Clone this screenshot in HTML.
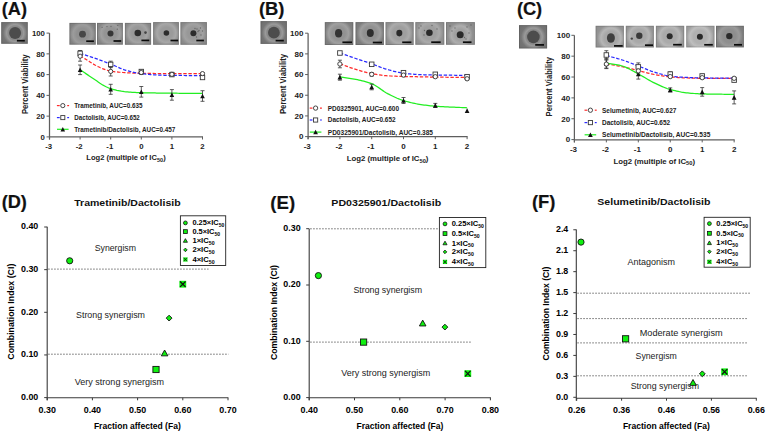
<!DOCTYPE html>
<html><head><meta charset="utf-8"><title>figure</title>
<style>
html,body{margin:0;padding:0;background:#fff;width:767px;height:432px;overflow:hidden;}
svg{display:block;font-family:"Liberation Sans",sans-serif;}
</style></head><body>
<svg width="767" height="432" viewBox="0 0 767 432">
<rect width="767" height="432" fill="#fff"/>
<text x="1.8" y="14.66" font-size="18.2" font-weight="bold" textLength="25.2" lengthAdjust="spacingAndGlyphs" fill="#111" stroke="#111" stroke-width="0.2">(A)</text>
<text x="258.9" y="14.76" font-size="18.2" font-weight="bold" textLength="25.5" lengthAdjust="spacingAndGlyphs" fill="#111" stroke="#111" stroke-width="0.2">(B)</text>
<text x="516.9" y="14.76" font-size="18.2" font-weight="bold" textLength="25.3" lengthAdjust="spacingAndGlyphs" fill="#111" stroke="#111" stroke-width="0.2">(C)</text>
<text x="1.7" y="208.06" font-size="18.2" font-weight="bold" textLength="25.2" lengthAdjust="spacingAndGlyphs" fill="#111" stroke="#111" stroke-width="0.2">(D)</text>
<text x="270.3" y="208.56" font-size="18.2" font-weight="bold" textLength="24.8" lengthAdjust="spacingAndGlyphs" fill="#111" stroke="#111" stroke-width="0.2">(E)</text>
<text x="531.9" y="208.36" font-size="18.2" font-weight="bold" textLength="23.5" lengthAdjust="spacingAndGlyphs" fill="#111" stroke="#111" stroke-width="0.2">(F)</text>
<radialGradient id="g6" cx="15.1" cy="33" r="21.28" gradientUnits="userSpaceOnUse"><stop offset="0" stop-color="#898989"/><stop offset="0.28" stop-color="#898989"/><stop offset="0.33" stop-color="#898989"/><stop offset="0.4" stop-color="#9a9a9a"/><stop offset="0.56" stop-color="#757575"/><stop offset="1" stop-color="#676767"/></radialGradient>
<rect x="1.2" y="22.1" width="26.6" height="21.7" fill="url(#g6)"/>
<rect x="1.7" y="22.6" width="25.6" height="20.7" fill="none" stroke="#000" stroke-opacity="0.12" stroke-width="1"/>
<ellipse cx="15.1" cy="33" rx="6" ry="6" fill="#4c4c4c"/>
<rect x="16.9" y="39.85" width="7.9" height="1.7" fill="#0a0a0a"/>
<radialGradient id="g11" cx="82.5" cy="34.2" r="21.12" gradientUnits="userSpaceOnUse"><stop offset="0" stop-color="#909090"/><stop offset="0.16" stop-color="#909090"/><stop offset="0.28" stop-color="#909090"/><stop offset="0.45" stop-color="#9c9c9c"/><stop offset="0.62" stop-color="#828282"/><stop offset="1" stop-color="#747474"/></radialGradient>
<rect x="69.4" y="22.9" width="26.4" height="21.8" fill="url(#g11)"/>
<rect x="69.9" y="23.4" width="25.4" height="20.8" fill="none" stroke="#000" stroke-opacity="0.12" stroke-width="1"/>
<ellipse cx="82.5" cy="34.2" rx="3.4" ry="3.4" fill="#474747"/>
<rect x="86.2" y="40.35" width="7.7" height="1.7" fill="#0a0a0a"/>
<radialGradient id="g16" cx="110.5" cy="33.6" r="20.72" gradientUnits="userSpaceOnUse"><stop offset="0" stop-color="#949494"/><stop offset="0.14" stop-color="#949494"/><stop offset="0.29" stop-color="#949494"/><stop offset="0.46" stop-color="#a0a0a0"/><stop offset="0.63" stop-color="#868686"/><stop offset="1" stop-color="#787878"/></radialGradient>
<rect x="97" y="22.9" width="25.9" height="21.8" fill="url(#g16)"/>
<rect x="97.5" y="23.4" width="24.9" height="20.8" fill="none" stroke="#000" stroke-opacity="0.12" stroke-width="1"/>
<ellipse cx="110.5" cy="33.6" rx="3" ry="3" fill="#363636"/>
<circle cx="102.1" cy="27.3" r="0.65" fill="#3a3a3a" fill-opacity="0.55"/>
<circle cx="107" cy="26.6" r="0.65" fill="#3a3a3a" fill-opacity="0.55"/>
<circle cx="111" cy="26.3" r="0.65" fill="#3a3a3a" fill-opacity="0.55"/>
<circle cx="117.8" cy="25.3" r="0.65" fill="#3a3a3a" fill-opacity="0.55"/>
<circle cx="117.3" cy="29.2" r="0.65" fill="#3a3a3a" fill-opacity="0.55"/>
<rect x="113.5" y="40.15" width="7.7" height="1.7" fill="#0a0a0a"/>
<radialGradient id="g26" cx="137.8" cy="33" r="20.96" gradientUnits="userSpaceOnUse"><stop offset="0" stop-color="#989898"/><stop offset="0.16" stop-color="#989898"/><stop offset="0.29" stop-color="#989898"/><stop offset="0.45" stop-color="#a4a4a4"/><stop offset="0.62" stop-color="#898989"/><stop offset="1" stop-color="#7b7b7b"/></radialGradient>
<rect x="124.9" y="22.9" width="26.2" height="21.9" fill="url(#g26)"/>
<rect x="125.4" y="23.4" width="25.2" height="20.9" fill="none" stroke="#000" stroke-opacity="0.12" stroke-width="1"/>
<ellipse cx="137.8" cy="33" rx="3.3" ry="3.3" fill="#2c2c2c"/>
<circle cx="145.5" cy="32.6" r="1.3" fill="#444"/>
<rect x="141.4" y="39.55" width="7.9" height="1.7" fill="#0a0a0a"/>
<radialGradient id="g32" cx="166.4" cy="33" r="20.64" gradientUnits="userSpaceOnUse"><stop offset="0" stop-color="#9a9a9a"/><stop offset="0.14" stop-color="#9a9a9a"/><stop offset="0.29" stop-color="#9a9a9a"/><stop offset="0.46" stop-color="#a7a7a7"/><stop offset="0.63" stop-color="#8b8b8b"/><stop offset="1" stop-color="#7d7d7d"/></radialGradient>
<rect x="153.1" y="22.1" width="25.8" height="22.7" fill="url(#g32)"/>
<rect x="153.6" y="22.6" width="24.8" height="21.7" fill="none" stroke="#000" stroke-opacity="0.12" stroke-width="1"/>
<ellipse cx="166.4" cy="33" rx="2.8" ry="2.8" fill="#2c2c2c"/>
<rect x="170.5" y="39.65" width="7.6" height="1.7" fill="#0a0a0a"/>
<radialGradient id="g37" cx="193.4" cy="33.3" r="21.2" gradientUnits="userSpaceOnUse"><stop offset="0" stop-color="#989898"/><stop offset="0.14" stop-color="#989898"/><stop offset="0.28" stop-color="#989898"/><stop offset="0.45" stop-color="#a2a2a2"/><stop offset="0.61" stop-color="#8b8b8b"/><stop offset="1" stop-color="#7d7d7d"/></radialGradient>
<rect x="180.4" y="22.1" width="26.5" height="22.7" fill="url(#g37)"/>
<rect x="180.9" y="22.6" width="25.5" height="21.7" fill="none" stroke="#000" stroke-opacity="0.12" stroke-width="1"/>
<ellipse cx="193.4" cy="33.3" rx="3" ry="3" fill="#2c2c2c"/>
<circle cx="197" cy="29" r="0.65" fill="#3a3a3a" fill-opacity="0.55"/>
<circle cx="199" cy="30.5" r="0.65" fill="#3a3a3a" fill-opacity="0.55"/>
<circle cx="200.5" cy="28" r="0.65" fill="#3a3a3a" fill-opacity="0.55"/>
<circle cx="198" cy="31.5" r="0.65" fill="#3a3a3a" fill-opacity="0.55"/>
<circle cx="201" cy="35" r="0.65" fill="#3a3a3a" fill-opacity="0.55"/>
<circle cx="196.5" cy="37" r="0.65" fill="#3a3a3a" fill-opacity="0.55"/>
<circle cx="195" cy="28.5" r="0.65" fill="#3a3a3a" fill-opacity="0.55"/>
<circle cx="202.5" cy="31" r="0.65" fill="#3a3a3a" fill-opacity="0.55"/>
<rect x="196.3" y="39.65" width="7.6" height="1.7" fill="#0a0a0a"/>
<radialGradient id="g50" cx="273.9" cy="32.7" r="21.12" gradientUnits="userSpaceOnUse"><stop offset="0" stop-color="#898989"/><stop offset="0.28" stop-color="#898989"/><stop offset="0.33" stop-color="#898989"/><stop offset="0.4" stop-color="#9a9a9a"/><stop offset="0.56" stop-color="#757575"/><stop offset="1" stop-color="#676767"/></radialGradient>
<rect x="260.5" y="21.1" width="26.4" height="22.8" fill="url(#g50)"/>
<rect x="261" y="21.6" width="25.4" height="21.8" fill="none" stroke="#000" stroke-opacity="0.12" stroke-width="1"/>
<ellipse cx="273.9" cy="32.7" rx="5.9" ry="5.9" fill="#4c4c4c"/>
<rect x="275.6" y="39.75" width="8.2" height="1.7" fill="#0a0a0a"/>
<radialGradient id="g55" cx="338.6" cy="33.3" r="22.8" gradientUnits="userSpaceOnUse"><stop offset="0" stop-color="#929292"/><stop offset="0.16" stop-color="#929292"/><stop offset="0.29" stop-color="#929292"/><stop offset="0.44" stop-color="#a0a0a0"/><stop offset="0.59" stop-color="#808080"/><stop offset="1" stop-color="#727272"/></radialGradient>
<rect x="324.8" y="22.1" width="28.5" height="22.9" fill="url(#g55)"/>
<rect x="325.3" y="22.6" width="27.5" height="21.9" fill="none" stroke="#000" stroke-opacity="0.12" stroke-width="1"/>
<ellipse cx="338.6" cy="33.3" rx="3.6" ry="4.2" fill="#333"/>
<rect x="342.4" y="41.45" width="9.6" height="1.7" fill="#0a0a0a"/>
<radialGradient id="g60" cx="370.3" cy="33.1" r="22.72" gradientUnits="userSpaceOnUse"><stop offset="0" stop-color="#909090"/><stop offset="0.15" stop-color="#909090"/><stop offset="0.29" stop-color="#909090"/><stop offset="0.44" stop-color="#9e9e9e"/><stop offset="0.59" stop-color="#7e7e7e"/><stop offset="1" stop-color="#707070"/></radialGradient>
<rect x="355.5" y="22.1" width="28.4" height="22.9" fill="url(#g60)"/>
<rect x="356" y="22.6" width="27.4" height="21.9" fill="none" stroke="#000" stroke-opacity="0.12" stroke-width="1"/>
<ellipse cx="370.3" cy="33.1" rx="3.5" ry="4" fill="#2e2e2e"/>
<rect x="372.8" y="41.65" width="9.2" height="1.7" fill="#0a0a0a"/>
<radialGradient id="g65" cx="399.3" cy="33.1" r="22.56" gradientUnits="userSpaceOnUse"><stop offset="0" stop-color="#9f9f9f"/><stop offset="0.13" stop-color="#9f9f9f"/><stop offset="0.29" stop-color="#9f9f9f"/><stop offset="0.44" stop-color="#acacac"/><stop offset="0.6" stop-color="#909090"/><stop offset="1" stop-color="#828282"/></radialGradient>
<rect x="385.5" y="22.1" width="28.2" height="22.9" fill="url(#g65)"/>
<rect x="386" y="22.6" width="27.2" height="21.9" fill="none" stroke="#000" stroke-opacity="0.12" stroke-width="1"/>
<ellipse cx="399.3" cy="33.1" rx="3" ry="3.3" fill="#2a2a2a"/>
<rect x="402.2" y="41.45" width="9.2" height="1.7" fill="#0a0a0a"/>
<radialGradient id="g70" cx="429.4" cy="32.7" r="23.2" gradientUnits="userSpaceOnUse"><stop offset="0" stop-color="#9f9f9f"/><stop offset="0.14" stop-color="#9f9f9f"/><stop offset="0.28" stop-color="#9f9f9f"/><stop offset="0.43" stop-color="#aaaaaa"/><stop offset="0.58" stop-color="#929292"/><stop offset="1" stop-color="#848484"/></radialGradient>
<rect x="415.3" y="22.1" width="29" height="22.7" fill="url(#g70)"/>
<rect x="415.8" y="22.6" width="28" height="21.7" fill="none" stroke="#000" stroke-opacity="0.12" stroke-width="1"/>
<ellipse cx="429.4" cy="32.7" rx="3.3" ry="3.3" fill="#2a2a2a"/>
<circle cx="421" cy="26" r="0.65" fill="#3a3a3a" fill-opacity="0.55"/>
<circle cx="432" cy="25.5" r="0.65" fill="#3a3a3a" fill-opacity="0.55"/>
<circle cx="424.5" cy="30.5" r="0.65" fill="#3a3a3a" fill-opacity="0.55"/>
<circle cx="437" cy="29" r="0.65" fill="#3a3a3a" fill-opacity="0.55"/>
<circle cx="424" cy="35" r="0.65" fill="#3a3a3a" fill-opacity="0.55"/>
<circle cx="419" cy="28" r="0.65" fill="#3a3a3a" fill-opacity="0.55"/>
<rect x="431.2" y="41.35" width="9.5" height="1.7" fill="#0a0a0a"/>
<radialGradient id="g81" cx="460.2" cy="34.8" r="23.12" gradientUnits="userSpaceOnUse"><stop offset="0" stop-color="#a0a0a0"/><stop offset="0.15" stop-color="#a0a0a0"/><stop offset="0.24" stop-color="#a0a0a0"/><stop offset="0.39" stop-color="#aeaeae"/><stop offset="0.54" stop-color="#909090"/><stop offset="1" stop-color="#828282"/></radialGradient>
<rect x="446" y="22.1" width="28.9" height="22.7" fill="url(#g81)"/>
<rect x="446.5" y="22.6" width="27.9" height="21.7" fill="none" stroke="#000" stroke-opacity="0.12" stroke-width="1"/>
<ellipse cx="460.2" cy="34.8" rx="3.5" ry="3.5" fill="#2a2a2a"/>
<circle cx="450" cy="26" r="0.65" fill="#3a3a3a" fill-opacity="0.55"/>
<circle cx="455" cy="28" r="0.65" fill="#3a3a3a" fill-opacity="0.55"/>
<circle cx="467" cy="27" r="0.65" fill="#3a3a3a" fill-opacity="0.55"/>
<circle cx="469" cy="33" r="0.65" fill="#3a3a3a" fill-opacity="0.55"/>
<circle cx="464.5" cy="37.5" r="0.65" fill="#3a3a3a" fill-opacity="0.55"/>
<circle cx="466" cy="39" r="0.65" fill="#3a3a3a" fill-opacity="0.55"/>
<circle cx="452" cy="31" r="0.65" fill="#3a3a3a" fill-opacity="0.55"/>
<circle cx="471" cy="25" r="0.65" fill="#3a3a3a" fill-opacity="0.55"/>
<rect x="462.9" y="41.35" width="8.6" height="1.7" fill="#0a0a0a"/>
<radialGradient id="g94" cx="533.4" cy="36.9" r="22.48" gradientUnits="userSpaceOnUse"><stop offset="0" stop-color="#898989"/><stop offset="0.28" stop-color="#898989"/><stop offset="0.32" stop-color="#898989"/><stop offset="0.39" stop-color="#9a9a9a"/><stop offset="0.55" stop-color="#757575"/><stop offset="1" stop-color="#676767"/></radialGradient>
<rect x="519" y="25.1" width="28.1" height="23.4" fill="url(#g94)"/>
<rect x="519.5" y="25.6" width="27.1" height="22.4" fill="none" stroke="#000" stroke-opacity="0.12" stroke-width="1"/>
<ellipse cx="533.4" cy="36.9" rx="6.3" ry="6.3" fill="#4c4c4c"/>
<rect x="535.2" y="44.05" width="8.8" height="1.7" fill="#0a0a0a"/>
<radialGradient id="g99" cx="610.9" cy="38" r="22.64" gradientUnits="userSpaceOnUse"><stop offset="0" stop-color="#a7a7a7"/><stop offset="0.18" stop-color="#a7a7a7"/><stop offset="0.29" stop-color="#a7a7a7"/><stop offset="0.44" stop-color="#b6b6b6"/><stop offset="0.6" stop-color="#949494"/><stop offset="1" stop-color="#868686"/></radialGradient>
<rect x="595.6" y="25.8" width="28.3" height="21.7" fill="url(#g99)"/>
<rect x="596.1" y="26.3" width="27.3" height="20.7" fill="none" stroke="#000" stroke-opacity="0.12" stroke-width="1"/>
<ellipse cx="610.9" cy="38" rx="4" ry="4.8" fill="#404040"/>
<rect x="614" y="45.05" width="8.7" height="1.7" fill="#0a0a0a"/>
<radialGradient id="g104" cx="639.3" cy="35.8" r="22.48" gradientUnits="userSpaceOnUse"><stop offset="0" stop-color="#a8a8a8"/><stop offset="0.14" stop-color="#a8a8a8"/><stop offset="0.29" stop-color="#a8a8a8"/><stop offset="0.44" stop-color="#b6b6b6"/><stop offset="0.6" stop-color="#969696"/><stop offset="1" stop-color="#888888"/></radialGradient>
<rect x="625.8" y="25.8" width="28.1" height="21.7" fill="url(#g104)"/>
<rect x="626.3" y="26.3" width="27.1" height="20.7" fill="none" stroke="#000" stroke-opacity="0.12" stroke-width="1"/>
<ellipse cx="639.3" cy="35.8" rx="3.2" ry="3.2" fill="#3a3a3a"/>
<circle cx="631.8" cy="38.6" r="1.2" fill="#444"/>
<rect x="645" y="44.35" width="8" height="1.7" fill="#0a0a0a"/>
<radialGradient id="g110" cx="669.7" cy="36.3" r="22.64" gradientUnits="userSpaceOnUse"><stop offset="0" stop-color="#aaaaaa"/><stop offset="0.13" stop-color="#aaaaaa"/><stop offset="0.29" stop-color="#aaaaaa"/><stop offset="0.44" stop-color="#b8b8b8"/><stop offset="0.6" stop-color="#989898"/><stop offset="1" stop-color="#8a8a8a"/></radialGradient>
<rect x="655.9" y="25.8" width="28.3" height="21.7" fill="url(#g110)"/>
<rect x="656.4" y="26.3" width="27.3" height="20.7" fill="none" stroke="#000" stroke-opacity="0.12" stroke-width="1"/>
<ellipse cx="669.7" cy="36.3" rx="3" ry="3" fill="#2c2c2c"/>
<rect x="673.1" y="43.85" width="8.7" height="1.7" fill="#0a0a0a"/>
<radialGradient id="g115" cx="699.9" cy="36.8" r="22.64" gradientUnits="userSpaceOnUse"><stop offset="0" stop-color="#b0b0b0"/><stop offset="0.13" stop-color="#b0b0b0"/><stop offset="0.29" stop-color="#b0b0b0"/><stop offset="0.44" stop-color="#bebebe"/><stop offset="0.6" stop-color="#a0a0a0"/><stop offset="1" stop-color="#929292"/></radialGradient>
<rect x="686.2" y="25.8" width="28.3" height="21.6" fill="url(#g115)"/>
<rect x="686.7" y="26.3" width="27.3" height="20.6" fill="none" stroke="#000" stroke-opacity="0.12" stroke-width="1"/>
<ellipse cx="699.9" cy="36.8" rx="3" ry="3" fill="#2a2a2a"/>
<rect x="704.2" y="43.95" width="8.6" height="1.7" fill="#0a0a0a"/>
<radialGradient id="g120" cx="729.3" cy="36.1" r="22.32" gradientUnits="userSpaceOnUse"><stop offset="0" stop-color="#8e8e8e"/><stop offset="0.14" stop-color="#8e8e8e"/><stop offset="0.29" stop-color="#8e8e8e"/><stop offset="0.45" stop-color="#9a9a9a"/><stop offset="0.6" stop-color="#808080"/><stop offset="1" stop-color="#727272"/></radialGradient>
<rect x="716" y="25.8" width="27.9" height="21.6" fill="url(#g120)"/>
<rect x="716.5" y="26.3" width="26.9" height="20.6" fill="none" stroke="#000" stroke-opacity="0.12" stroke-width="1"/>
<ellipse cx="729.3" cy="36.1" rx="3.2" ry="3.2" fill="#2a2a2a"/>
<rect x="734" y="43.95" width="8" height="1.7" fill="#0a0a0a"/>
<line x1="49.5" y1="33.1" x2="49.5" y2="139.5" stroke="#5e5e5e" stroke-width="1.25"/>
<line x1="49.5" y1="136.9" x2="203" y2="136.9" stroke="#5e5e5e" stroke-width="1.2"/>
<line x1="46.5" y1="136.9" x2="49.5" y2="136.9" stroke="#5e5e5e" stroke-width="1"/>
<text x="44.9" y="139.69" font-size="7.8" font-weight="bold" text-anchor="end" fill="#222">0</text>
<line x1="46.5" y1="116.14" x2="49.5" y2="116.14" stroke="#5e5e5e" stroke-width="1"/>
<text x="44.9" y="118.93" font-size="7.8" font-weight="bold" text-anchor="end" fill="#222">20</text>
<line x1="46.5" y1="95.38" x2="49.5" y2="95.38" stroke="#5e5e5e" stroke-width="1"/>
<text x="44.9" y="98.17" font-size="7.8" font-weight="bold" text-anchor="end" fill="#222">40</text>
<line x1="46.5" y1="74.62" x2="49.5" y2="74.62" stroke="#5e5e5e" stroke-width="1"/>
<text x="44.9" y="77.41" font-size="7.8" font-weight="bold" text-anchor="end" fill="#222">60</text>
<line x1="46.5" y1="53.86" x2="49.5" y2="53.86" stroke="#5e5e5e" stroke-width="1"/>
<text x="44.9" y="56.65" font-size="7.8" font-weight="bold" text-anchor="end" fill="#222">80</text>
<line x1="46.5" y1="33.1" x2="49.5" y2="33.1" stroke="#5e5e5e" stroke-width="1"/>
<text x="44.9" y="35.89" font-size="7.8" font-weight="bold" text-anchor="end" fill="#222">100</text>
<line x1="49.5" y1="136.9" x2="49.5" y2="139.5" stroke="#5e5e5e" stroke-width="1"/>
<text x="48.6" y="149.09" font-size="7.8" font-weight="bold" text-anchor="middle" fill="#222">-3</text>
<line x1="80.1" y1="136.9" x2="80.1" y2="139.5" stroke="#5e5e5e" stroke-width="1"/>
<text x="79.2" y="149.09" font-size="7.8" font-weight="bold" text-anchor="middle" fill="#222">-2</text>
<line x1="110.7" y1="136.9" x2="110.7" y2="139.5" stroke="#5e5e5e" stroke-width="1"/>
<text x="109.8" y="149.09" font-size="7.8" font-weight="bold" text-anchor="middle" fill="#222">-1</text>
<line x1="141.3" y1="136.9" x2="141.3" y2="139.5" stroke="#5e5e5e" stroke-width="1"/>
<text x="141.3" y="149.09" font-size="7.8" font-weight="bold" text-anchor="middle" fill="#222">0</text>
<line x1="171.9" y1="136.9" x2="171.9" y2="139.5" stroke="#5e5e5e" stroke-width="1"/>
<text x="171.9" y="149.09" font-size="7.8" font-weight="bold" text-anchor="middle" fill="#222">1</text>
<line x1="202.5" y1="136.9" x2="202.5" y2="139.5" stroke="#5e5e5e" stroke-width="1"/>
<text x="202.5" y="149.09" font-size="7.8" font-weight="bold" text-anchor="middle" fill="#222">2</text>
<text x="126" y="160.02" font-size="7.6" font-weight="bold" text-anchor="middle" textLength="79.3" lengthAdjust="spacingAndGlyphs" fill="#222">Log2 (multiple of IC<tspan font-size="5.6" dy="1.8">50</tspan><tspan dy="-1.8">)</tspan></text>
<text x="26.3" y="86.38" font-size="8.6" font-weight="bold" text-anchor="middle" textLength="59.7" lengthAdjust="spacingAndGlyphs" fill="#222" transform="rotate(-90 26.3 84.2)">Percent Viability</text>
<path d="M80.1,55.8 L81.63,56.74 L83.16,57.67 L84.69,58.61 L86.22,59.55 L87.75,60.49 L89.28,61.45 L90.81,62.44 L92.34,63.41 L93.87,64.34 L95.4,65.2 L96.93,66.01 L98.46,66.8 L99.99,67.54 L101.52,68.22 L103.05,68.81 L104.58,69.37 L106.11,69.91 L107.64,70.39 L109.17,70.79 L110.7,71.1 L112.23,71.34 L113.76,71.56 L115.29,71.76 L116.82,71.94 L118.35,72.1 L119.88,72.25 L121.41,72.38 L122.94,72.5 L124.47,72.61 L126,72.7 L127.53,72.79 L129.06,72.87 L130.59,72.94 L132.12,73.01 L133.65,73.08 L135.18,73.14 L136.71,73.19 L138.24,73.23 L139.77,73.27 L141.3,73.3 L142.83,73.33 L144.36,73.35 L145.89,73.37 L147.42,73.4 L148.95,73.42 L150.48,73.44 L152.01,73.46 L153.54,73.48 L155.07,73.5 L156.6,73.51 L158.13,73.53 L159.66,73.54 L161.19,73.56 L162.72,73.57 L164.25,73.58 L165.78,73.59 L167.31,73.59 L168.84,73.6 L170.37,73.6 L171.9,73.6 L173.43,73.6 L174.96,73.6 L176.49,73.6 L178.02,73.6 L179.55,73.6 L181.08,73.6 L182.61,73.6 L184.14,73.6 L185.67,73.6 L187.2,73.6 L188.73,73.6 L190.26,73.6 L191.79,73.6 L193.32,73.6 L194.85,73.6 L196.38,73.6 L197.91,73.6 L199.44,73.6 L200.97,73.6 L202.5,73.6" stroke="#ff2a2a" stroke-width="1.25" fill="none" stroke-dasharray="3.4,1.7"/>
<path d="M80.1,53.3 L81.63,53.81 L83.16,54.31 L84.69,54.81 L86.22,55.31 L87.75,55.81 L89.28,56.32 L90.81,56.83 L92.34,57.34 L93.87,57.87 L95.4,58.4 L96.93,58.94 L98.46,59.49 L99.99,60.05 L101.52,60.61 L103.05,61.18 L104.58,61.76 L106.11,62.33 L107.64,62.92 L109.17,63.51 L110.7,64.1 L112.23,64.72 L113.76,65.37 L115.29,66.04 L116.82,66.72 L118.35,67.4 L119.88,68.07 L121.41,68.7 L122.94,69.29 L124.47,69.83 L126,70.3 L127.53,70.73 L129.06,71.14 L130.59,71.53 L132.12,71.91 L133.65,72.27 L135.18,72.6 L136.71,72.9 L138.24,73.17 L139.77,73.4 L141.3,73.6 L142.83,73.77 L144.36,73.94 L145.89,74.1 L147.42,74.25 L148.95,74.39 L150.48,74.52 L152.01,74.65 L153.54,74.76 L155.07,74.86 L156.6,74.96 L158.13,75.04 L159.66,75.11 L161.19,75.17 L162.72,75.22 L164.25,75.26 L165.78,75.3 L167.31,75.33 L168.84,75.36 L170.37,75.38 L171.9,75.4 L173.43,75.42 L174.96,75.43 L176.49,75.44 L178.02,75.46 L179.55,75.47 L181.08,75.48 L182.61,75.49 L184.14,75.5 L185.67,75.51 L187.2,75.52 L188.73,75.52 L190.26,75.53 L191.79,75.54 L193.32,75.55 L194.85,75.56 L196.38,75.56 L197.91,75.57 L199.44,75.58 L200.97,75.59 L202.5,75.6" stroke="#2a2aff" stroke-width="1.25" fill="none" stroke-dasharray="3.4,1.7"/>
<path d="M80.1,69.8 L81.63,70.82 L83.16,71.84 L84.69,72.85 L86.22,73.87 L87.75,74.89 L89.28,75.9 L90.81,76.92 L92.34,77.94 L93.87,78.97 L95.4,80 L96.93,81.07 L98.46,82.17 L99.99,83.26 L101.52,84.27 L103.05,85.17 L104.58,86.01 L106.11,86.81 L107.64,87.54 L109.17,88.18 L110.7,88.7 L112.23,89.14 L113.76,89.55 L115.29,89.94 L116.82,90.31 L118.35,90.64 L119.88,90.94 L121.41,91.21 L122.94,91.44 L124.47,91.64 L126,91.8 L127.53,91.93 L129.06,92.06 L130.59,92.17 L132.12,92.28 L133.65,92.37 L135.18,92.46 L136.71,92.53 L138.24,92.6 L139.77,92.65 L141.3,92.7 L142.83,92.74 L144.36,92.78 L145.89,92.82 L147.42,92.85 L148.95,92.88 L150.48,92.91 L152.01,92.94 L153.54,92.97 L155.07,92.99 L156.6,93.02 L158.13,93.04 L159.66,93.06 L161.19,93.08 L162.72,93.1 L164.25,93.12 L165.78,93.14 L167.31,93.15 L168.84,93.17 L170.37,93.19 L171.9,93.2 L173.43,93.21 L174.96,93.23 L176.49,93.24 L178.02,93.25 L179.55,93.26 L181.08,93.27 L182.61,93.28 L184.14,93.29 L185.67,93.3 L187.2,93.31 L188.73,93.32 L190.26,93.33 L191.79,93.34 L193.32,93.35 L194.85,93.35 L196.38,93.36 L197.91,93.37 L199.44,93.38 L200.97,93.39 L202.5,93.4" stroke="#22ee22" stroke-width="1.25" fill="none"/>
<line x1="80.1" y1="51.2" x2="80.1" y2="61.2" stroke="#333" stroke-width="0.8"/>
<line x1="78.1" y1="51.2" x2="82.1" y2="51.2" stroke="#333" stroke-width="0.8"/>
<line x1="78.1" y1="61.2" x2="82.1" y2="61.2" stroke="#333" stroke-width="0.8"/>
<line x1="110.7" y1="66.8" x2="110.7" y2="76" stroke="#333" stroke-width="0.8"/>
<line x1="108.7" y1="66.8" x2="112.7" y2="66.8" stroke="#333" stroke-width="0.8"/>
<line x1="108.7" y1="76" x2="112.7" y2="76" stroke="#333" stroke-width="0.8"/>
<line x1="141.3" y1="70.5" x2="141.3" y2="74.5" stroke="#333" stroke-width="0.8"/>
<line x1="139.3" y1="70.5" x2="143.3" y2="70.5" stroke="#333" stroke-width="0.8"/>
<line x1="139.3" y1="74.5" x2="143.3" y2="74.5" stroke="#333" stroke-width="0.8"/>
<line x1="171.9" y1="72.3" x2="171.9" y2="76.3" stroke="#333" stroke-width="0.8"/>
<line x1="169.9" y1="72.3" x2="173.9" y2="72.3" stroke="#333" stroke-width="0.8"/>
<line x1="169.9" y1="76.3" x2="173.9" y2="76.3" stroke="#333" stroke-width="0.8"/>
<line x1="202.5" y1="72.6" x2="202.5" y2="74.6" stroke="#333" stroke-width="0.8"/>
<line x1="200.5" y1="72.6" x2="204.5" y2="72.6" stroke="#333" stroke-width="0.8"/>
<line x1="200.5" y1="74.6" x2="204.5" y2="74.6" stroke="#333" stroke-width="0.8"/>
<line x1="80.1" y1="50.5" x2="80.1" y2="56.1" stroke="#333" stroke-width="0.8"/>
<line x1="78.1" y1="50.5" x2="82.1" y2="50.5" stroke="#333" stroke-width="0.8"/>
<line x1="78.1" y1="56.1" x2="82.1" y2="56.1" stroke="#333" stroke-width="0.8"/>
<line x1="110.7" y1="61.2" x2="110.7" y2="67.6" stroke="#333" stroke-width="0.8"/>
<line x1="108.7" y1="61.2" x2="112.7" y2="61.2" stroke="#333" stroke-width="0.8"/>
<line x1="108.7" y1="67.6" x2="112.7" y2="67.6" stroke="#333" stroke-width="0.8"/>
<line x1="141.3" y1="69.5" x2="141.3" y2="73.5" stroke="#333" stroke-width="0.8"/>
<line x1="139.3" y1="69.5" x2="143.3" y2="69.5" stroke="#333" stroke-width="0.8"/>
<line x1="139.3" y1="73.5" x2="143.3" y2="73.5" stroke="#333" stroke-width="0.8"/>
<line x1="171.9" y1="73.1" x2="171.9" y2="76.1" stroke="#333" stroke-width="0.8"/>
<line x1="169.9" y1="73.1" x2="173.9" y2="73.1" stroke="#333" stroke-width="0.8"/>
<line x1="169.9" y1="76.1" x2="173.9" y2="76.1" stroke="#333" stroke-width="0.8"/>
<line x1="202.5" y1="76.5" x2="202.5" y2="78.5" stroke="#333" stroke-width="0.8"/>
<line x1="200.5" y1="76.5" x2="204.5" y2="76.5" stroke="#333" stroke-width="0.8"/>
<line x1="200.5" y1="78.5" x2="204.5" y2="78.5" stroke="#333" stroke-width="0.8"/>
<line x1="80.1" y1="65" x2="80.1" y2="74.6" stroke="#333" stroke-width="0.8"/>
<line x1="78.1" y1="65" x2="82.1" y2="65" stroke="#333" stroke-width="0.8"/>
<line x1="78.1" y1="74.6" x2="82.1" y2="74.6" stroke="#333" stroke-width="0.8"/>
<line x1="110.7" y1="84.3" x2="110.7" y2="94.3" stroke="#333" stroke-width="0.8"/>
<line x1="108.7" y1="84.3" x2="112.7" y2="84.3" stroke="#333" stroke-width="0.8"/>
<line x1="108.7" y1="94.3" x2="112.7" y2="94.3" stroke="#333" stroke-width="0.8"/>
<line x1="141.3" y1="86.5" x2="141.3" y2="97.1" stroke="#333" stroke-width="0.8"/>
<line x1="139.3" y1="86.5" x2="143.3" y2="86.5" stroke="#333" stroke-width="0.8"/>
<line x1="139.3" y1="97.1" x2="143.3" y2="97.1" stroke="#333" stroke-width="0.8"/>
<line x1="171.9" y1="89.6" x2="171.9" y2="100.2" stroke="#333" stroke-width="0.8"/>
<line x1="169.9" y1="89.6" x2="173.9" y2="89.6" stroke="#333" stroke-width="0.8"/>
<line x1="169.9" y1="100.2" x2="173.9" y2="100.2" stroke="#333" stroke-width="0.8"/>
<line x1="202.5" y1="90.7" x2="202.5" y2="101.3" stroke="#333" stroke-width="0.8"/>
<line x1="200.5" y1="90.7" x2="204.5" y2="90.7" stroke="#333" stroke-width="0.8"/>
<line x1="200.5" y1="101.3" x2="204.5" y2="101.3" stroke="#333" stroke-width="0.8"/>
<path d="M80.1,67.5 L82.4,71.98 L77.8,71.98 Z" fill="#111"/>
<path d="M110.7,87 L113,91.48 L108.4,91.48 Z" fill="#111"/>
<path d="M141.3,89.5 L143.6,93.98 L139,93.98 Z" fill="#111"/>
<path d="M171.9,92.6 L174.2,97.09 L169.6,97.09 Z" fill="#111"/>
<path d="M202.5,93.7 L204.8,98.19 L200.2,98.19 Z" fill="#111"/>
<rect x="77.9" y="51.1" width="4.4" height="4.4" fill="#fff" stroke="#3a3a3a" stroke-width="0.9"/>
<rect x="108.5" y="62.2" width="4.4" height="4.4" fill="#fff" stroke="#3a3a3a" stroke-width="0.9"/>
<rect x="139.1" y="69.3" width="4.4" height="4.4" fill="#fff" stroke="#3a3a3a" stroke-width="0.9"/>
<rect x="169.7" y="72.4" width="4.4" height="4.4" fill="#fff" stroke="#3a3a3a" stroke-width="0.9"/>
<rect x="200.3" y="75.3" width="4.4" height="4.4" fill="#fff" stroke="#3a3a3a" stroke-width="0.9"/>
<circle cx="80.1" cy="56.2" r="2.1" fill="#fff" stroke="#333" stroke-width="0.9"/>
<circle cx="110.7" cy="71.4" r="2.1" fill="#fff" stroke="#333" stroke-width="0.9"/>
<circle cx="141.3" cy="72.5" r="2.1" fill="#fff" stroke="#333" stroke-width="0.9"/>
<circle cx="171.9" cy="74.3" r="2.1" fill="#fff" stroke="#333" stroke-width="0.9"/>
<circle cx="202.5" cy="73.6" r="2.1" fill="#fff" stroke="#333" stroke-width="0.9"/>
<line x1="56.9" y1="105.6" x2="59.7" y2="105.6" stroke="#ff2a2a" stroke-width="1.2"/>
<line x1="67.2" y1="105.6" x2="69.1" y2="105.6" stroke="#ff2a2a" stroke-width="1.2"/>
<circle cx="62.8" cy="105.6" r="2.1" fill="#fff" stroke="#333" stroke-width="0.9"/>
<text x="74.3" y="108" font-size="6.7" font-weight="bold" textLength="68.1" lengthAdjust="spacingAndGlyphs" fill="#222">Trametinib, AUC=0.635</text>
<line x1="56.9" y1="117.6" x2="59.7" y2="117.6" stroke="#2a2aff" stroke-width="1.2"/>
<line x1="67.2" y1="117.6" x2="69.1" y2="117.6" stroke="#2a2aff" stroke-width="1.2"/>
<rect x="60.78" y="115.58" width="4.05" height="4.05" fill="#fff" stroke="#3a3a3a" stroke-width="0.9"/>
<text x="74.3" y="120" font-size="6.7" font-weight="bold" textLength="65.5" lengthAdjust="spacingAndGlyphs" fill="#222">Dactolisib, AUC=0.652</text>
<line x1="57" y1="129.3" x2="68.6" y2="129.3" stroke="#22ee22" stroke-width="1.2"/>
<path d="M62.8,127 L65.1,131.49 L60.5,131.49 Z" fill="#111"/>
<text x="74.3" y="131.7" font-size="6.7" font-weight="bold" textLength="101.1" lengthAdjust="spacingAndGlyphs" fill="#222">Trametinib/Dactolisib, AUC=0.457</text>
<line x1="308.1" y1="33.2" x2="308.1" y2="139.2" stroke="#5e5e5e" stroke-width="1.25"/>
<line x1="308.1" y1="136.6" x2="467.6" y2="136.6" stroke="#5e5e5e" stroke-width="1.2"/>
<line x1="305.1" y1="136.6" x2="308.1" y2="136.6" stroke="#5e5e5e" stroke-width="1"/>
<text x="303.4" y="139.48" font-size="8.03" font-weight="bold" text-anchor="end" fill="#222">0</text>
<line x1="305.1" y1="115.92" x2="308.1" y2="115.92" stroke="#5e5e5e" stroke-width="1"/>
<text x="303.4" y="118.8" font-size="8.03" font-weight="bold" text-anchor="end" fill="#222">20</text>
<line x1="305.1" y1="95.24" x2="308.1" y2="95.24" stroke="#5e5e5e" stroke-width="1"/>
<text x="303.4" y="98.12" font-size="8.03" font-weight="bold" text-anchor="end" fill="#222">40</text>
<line x1="305.1" y1="74.56" x2="308.1" y2="74.56" stroke="#5e5e5e" stroke-width="1"/>
<text x="303.4" y="77.44" font-size="8.03" font-weight="bold" text-anchor="end" fill="#222">60</text>
<line x1="305.1" y1="53.88" x2="308.1" y2="53.88" stroke="#5e5e5e" stroke-width="1"/>
<text x="303.4" y="56.76" font-size="8.03" font-weight="bold" text-anchor="end" fill="#222">80</text>
<line x1="305.1" y1="33.2" x2="308.1" y2="33.2" stroke="#5e5e5e" stroke-width="1"/>
<text x="303.4" y="36.08" font-size="8.03" font-weight="bold" text-anchor="end" fill="#222">100</text>
<line x1="308.1" y1="136.6" x2="308.1" y2="139.2" stroke="#5e5e5e" stroke-width="1"/>
<text x="307.2" y="149.08" font-size="8.03" font-weight="bold" text-anchor="middle" fill="#222">-3</text>
<line x1="339.9" y1="136.6" x2="339.9" y2="139.2" stroke="#5e5e5e" stroke-width="1"/>
<text x="339" y="149.08" font-size="8.03" font-weight="bold" text-anchor="middle" fill="#222">-2</text>
<line x1="371.7" y1="136.6" x2="371.7" y2="139.2" stroke="#5e5e5e" stroke-width="1"/>
<text x="370.8" y="149.08" font-size="8.03" font-weight="bold" text-anchor="middle" fill="#222">-1</text>
<line x1="403.5" y1="136.6" x2="403.5" y2="139.2" stroke="#5e5e5e" stroke-width="1"/>
<text x="403.5" y="149.08" font-size="8.03" font-weight="bold" text-anchor="middle" fill="#222">0</text>
<line x1="435.3" y1="136.6" x2="435.3" y2="139.2" stroke="#5e5e5e" stroke-width="1"/>
<text x="435.3" y="149.08" font-size="8.03" font-weight="bold" text-anchor="middle" fill="#222">1</text>
<line x1="467.1" y1="136.6" x2="467.1" y2="139.2" stroke="#5e5e5e" stroke-width="1"/>
<text x="467.1" y="149.08" font-size="8.03" font-weight="bold" text-anchor="middle" fill="#222">2</text>
<text x="387.6" y="160.7" font-size="7.83" font-weight="bold" text-anchor="middle" textLength="81.68" lengthAdjust="spacingAndGlyphs" fill="#222">Log2 (multiple of IC<tspan font-size="5.77" dy="1.8">50</tspan><tspan dy="-1.8">)</tspan></text>
<text x="283.5" y="86.18" font-size="8.6" font-weight="bold" text-anchor="middle" textLength="60.2" lengthAdjust="spacingAndGlyphs" fill="#222" transform="rotate(-90 283.5 84)">Percent Viability</text>
<path d="M339.9,63.8 L341.49,64.37 L343.08,64.95 L344.67,65.53 L346.26,66.12 L347.85,66.7 L349.44,67.28 L351.03,67.84 L352.62,68.38 L354.21,68.9 L355.8,69.4 L357.39,69.88 L358.98,70.36 L360.57,70.82 L362.16,71.28 L363.75,71.73 L365.34,72.15 L366.93,72.56 L368.52,72.93 L370.11,73.28 L371.7,73.6 L373.29,73.9 L374.88,74.19 L376.47,74.47 L378.06,74.73 L379.65,74.98 L381.24,75.2 L382.83,75.4 L384.42,75.57 L386.01,75.7 L387.6,75.81 L389.19,75.91 L390.78,76 L392.37,76.08 L393.96,76.16 L395.55,76.23 L397.14,76.3 L398.73,76.35 L400.32,76.41 L401.91,76.46 L403.5,76.5 L405.09,76.54 L406.68,76.58 L408.27,76.61 L409.86,76.64 L411.45,76.67 L413.04,76.69 L414.63,76.72 L416.22,76.74 L417.81,76.77 L419.4,76.8 L420.99,76.83 L422.58,76.86 L424.17,76.89 L425.76,76.93 L427.35,76.96 L428.94,76.99 L430.53,77.02 L432.12,77.05 L433.71,77.07 L435.3,77.1 L436.89,77.12 L438.48,77.15 L440.07,77.17 L441.66,77.19 L443.25,77.21 L444.84,77.23 L446.43,77.25 L448.02,77.27 L449.61,77.29 L451.2,77.31 L452.79,77.33 L454.38,77.35 L455.97,77.37 L457.56,77.39 L459.15,77.4 L460.74,77.42 L462.33,77.44 L463.92,77.46 L465.51,77.48 L467.1,77.5" stroke="#ff2a2a" stroke-width="1.25" fill="none" stroke-dasharray="3.4,1.7"/>
<path d="M339.9,53 L341.49,53.55 L343.08,54.1 L344.67,54.66 L346.26,55.21 L347.85,55.76 L349.44,56.31 L351.03,56.86 L352.62,57.41 L354.21,57.96 L355.8,58.5 L357.39,59.04 L358.98,59.56 L360.57,60.09 L362.16,60.61 L363.75,61.13 L365.34,61.65 L366.93,62.17 L368.52,62.71 L370.11,63.25 L371.7,63.8 L373.29,64.38 L374.88,64.99 L376.47,65.61 L378.06,66.25 L379.65,66.87 L381.24,67.48 L382.83,68.07 L384.42,68.61 L386.01,69.1 L387.6,69.56 L389.19,70.01 L390.78,70.46 L392.37,70.89 L393.96,71.3 L395.55,71.7 L397.14,72.07 L398.73,72.4 L400.32,72.71 L401.91,72.98 L403.5,73.2 L405.09,73.4 L406.68,73.58 L408.27,73.76 L409.86,73.92 L411.45,74.07 L413.04,74.21 L414.63,74.33 L416.22,74.44 L417.81,74.53 L419.4,74.6 L420.99,74.66 L422.58,74.71 L424.17,74.76 L425.76,74.8 L427.35,74.84 L428.94,74.88 L430.53,74.91 L432.12,74.94 L433.71,74.97 L435.3,75 L436.89,75.03 L438.48,75.05 L440.07,75.08 L441.66,75.1 L443.25,75.12 L444.84,75.14 L446.43,75.16 L448.02,75.18 L449.61,75.2 L451.2,75.22 L452.79,75.24 L454.38,75.25 L455.97,75.27 L457.56,75.29 L459.15,75.31 L460.74,75.32 L462.33,75.34 L463.92,75.36 L465.51,75.38 L467.1,75.4" stroke="#2a2aff" stroke-width="1.25" fill="none" stroke-dasharray="3.4,1.7"/>
<path d="M339.9,76.9 L341.49,77.14 L343.08,77.38 L344.67,77.61 L346.26,77.84 L347.85,78.07 L349.44,78.3 L351.03,78.55 L352.62,78.82 L354.21,79.1 L355.8,79.4 L357.39,79.72 L358.98,80.06 L360.57,80.42 L362.16,80.79 L363.75,81.2 L365.34,81.63 L366.93,82.09 L368.52,82.59 L370.11,83.12 L371.7,83.7 L373.29,84.39 L374.88,85.23 L376.47,86.2 L378.06,87.26 L379.65,88.37 L381.24,89.51 L382.83,90.63 L384.42,91.71 L386.01,92.71 L387.6,93.6 L389.19,94.42 L390.78,95.22 L392.37,96.01 L393.96,96.78 L395.55,97.52 L397.14,98.23 L398.73,98.89 L400.32,99.51 L401.91,100.09 L403.5,100.6 L405.09,101.07 L406.68,101.52 L408.27,101.95 L409.86,102.36 L411.45,102.74 L413.04,103.1 L414.63,103.44 L416.22,103.75 L417.81,104.04 L419.4,104.3 L420.99,104.55 L422.58,104.78 L424.17,105.01 L425.76,105.22 L427.35,105.42 L428.94,105.6 L430.53,105.77 L432.12,105.93 L433.71,106.07 L435.3,106.2 L436.89,106.31 L438.48,106.42 L440.07,106.52 L441.66,106.62 L443.25,106.71 L444.84,106.79 L446.43,106.87 L448.02,106.95 L449.61,107.02 L451.2,107.09 L452.79,107.16 L454.38,107.23 L455.97,107.3 L457.56,107.37 L459.15,107.44 L460.74,107.5 L462.33,107.57 L463.92,107.65 L465.51,107.72 L467.1,107.8" stroke="#22ee22" stroke-width="1.25" fill="none"/>
<line x1="339.9" y1="60.2" x2="339.9" y2="67.8" stroke="#333" stroke-width="0.8"/>
<line x1="337.9" y1="60.2" x2="341.9" y2="60.2" stroke="#333" stroke-width="0.8"/>
<line x1="337.9" y1="67.8" x2="341.9" y2="67.8" stroke="#333" stroke-width="0.8"/>
<line x1="371.7" y1="72.5" x2="371.7" y2="76.1" stroke="#333" stroke-width="0.8"/>
<line x1="369.7" y1="72.5" x2="373.7" y2="72.5" stroke="#333" stroke-width="0.8"/>
<line x1="369.7" y1="76.1" x2="373.7" y2="76.1" stroke="#333" stroke-width="0.8"/>
<line x1="403.5" y1="73.6" x2="403.5" y2="76.6" stroke="#333" stroke-width="0.8"/>
<line x1="401.5" y1="73.6" x2="405.5" y2="73.6" stroke="#333" stroke-width="0.8"/>
<line x1="401.5" y1="76.6" x2="405.5" y2="76.6" stroke="#333" stroke-width="0.8"/>
<line x1="435.3" y1="75.5" x2="435.3" y2="77.9" stroke="#333" stroke-width="0.8"/>
<line x1="433.3" y1="75.5" x2="437.3" y2="75.5" stroke="#333" stroke-width="0.8"/>
<line x1="433.3" y1="77.9" x2="437.3" y2="77.9" stroke="#333" stroke-width="0.8"/>
<line x1="467.1" y1="77.6" x2="467.1" y2="80" stroke="#333" stroke-width="0.8"/>
<line x1="465.1" y1="77.6" x2="469.1" y2="77.6" stroke="#333" stroke-width="0.8"/>
<line x1="465.1" y1="80" x2="469.1" y2="80" stroke="#333" stroke-width="0.8"/>
<line x1="339.9" y1="51.8" x2="339.9" y2="54.2" stroke="#333" stroke-width="0.8"/>
<line x1="337.9" y1="51.8" x2="341.9" y2="51.8" stroke="#333" stroke-width="0.8"/>
<line x1="337.9" y1="54.2" x2="341.9" y2="54.2" stroke="#333" stroke-width="0.8"/>
<line x1="371.7" y1="63.1" x2="371.7" y2="65.5" stroke="#333" stroke-width="0.8"/>
<line x1="369.7" y1="63.1" x2="373.7" y2="63.1" stroke="#333" stroke-width="0.8"/>
<line x1="369.7" y1="65.5" x2="373.7" y2="65.5" stroke="#333" stroke-width="0.8"/>
<line x1="403.5" y1="70.5" x2="403.5" y2="74.9" stroke="#333" stroke-width="0.8"/>
<line x1="401.5" y1="70.5" x2="405.5" y2="70.5" stroke="#333" stroke-width="0.8"/>
<line x1="401.5" y1="74.9" x2="405.5" y2="74.9" stroke="#333" stroke-width="0.8"/>
<line x1="435.3" y1="72.5" x2="435.3" y2="76.1" stroke="#333" stroke-width="0.8"/>
<line x1="433.3" y1="72.5" x2="437.3" y2="72.5" stroke="#333" stroke-width="0.8"/>
<line x1="433.3" y1="76.1" x2="437.3" y2="76.1" stroke="#333" stroke-width="0.8"/>
<line x1="467.1" y1="74.9" x2="467.1" y2="78.5" stroke="#333" stroke-width="0.8"/>
<line x1="465.1" y1="74.9" x2="469.1" y2="74.9" stroke="#333" stroke-width="0.8"/>
<line x1="465.1" y1="78.5" x2="469.1" y2="78.5" stroke="#333" stroke-width="0.8"/>
<line x1="339.9" y1="74.2" x2="339.9" y2="80.2" stroke="#333" stroke-width="0.8"/>
<line x1="337.9" y1="74.2" x2="341.9" y2="74.2" stroke="#333" stroke-width="0.8"/>
<line x1="337.9" y1="80.2" x2="341.9" y2="80.2" stroke="#333" stroke-width="0.8"/>
<line x1="371.7" y1="84.2" x2="371.7" y2="89.8" stroke="#333" stroke-width="0.8"/>
<line x1="369.7" y1="84.2" x2="373.7" y2="84.2" stroke="#333" stroke-width="0.8"/>
<line x1="369.7" y1="89.8" x2="373.7" y2="89.8" stroke="#333" stroke-width="0.8"/>
<line x1="403.5" y1="97.5" x2="403.5" y2="103.5" stroke="#333" stroke-width="0.8"/>
<line x1="401.5" y1="97.5" x2="405.5" y2="97.5" stroke="#333" stroke-width="0.8"/>
<line x1="401.5" y1="103.5" x2="405.5" y2="103.5" stroke="#333" stroke-width="0.8"/>
<line x1="435.3" y1="103.4" x2="435.3" y2="107.4" stroke="#333" stroke-width="0.8"/>
<line x1="433.3" y1="103.4" x2="437.3" y2="103.4" stroke="#333" stroke-width="0.8"/>
<line x1="433.3" y1="107.4" x2="437.3" y2="107.4" stroke="#333" stroke-width="0.8"/>
<path d="M339.9,74.83 L342.27,79.45 L337.53,79.45 Z" fill="#111"/>
<path d="M371.7,84.63 L374.07,89.25 L369.33,89.25 Z" fill="#111"/>
<path d="M403.5,98.13 L405.87,102.75 L401.13,102.75 Z" fill="#111"/>
<path d="M435.3,103.03 L437.67,107.65 L432.93,107.65 Z" fill="#111"/>
<path d="M467.1,108.33 L469.47,112.95 L464.73,112.95 Z" fill="#111"/>
<rect x="337.63" y="50.73" width="4.53" height="4.53" fill="#fff" stroke="#3a3a3a" stroke-width="0.9"/>
<rect x="369.43" y="62.03" width="4.53" height="4.53" fill="#fff" stroke="#3a3a3a" stroke-width="0.9"/>
<rect x="401.23" y="70.43" width="4.53" height="4.53" fill="#fff" stroke="#3a3a3a" stroke-width="0.9"/>
<rect x="433.03" y="72.03" width="4.53" height="4.53" fill="#fff" stroke="#3a3a3a" stroke-width="0.9"/>
<rect x="464.83" y="74.43" width="4.53" height="4.53" fill="#fff" stroke="#3a3a3a" stroke-width="0.9"/>
<circle cx="339.9" cy="64" r="2.16" fill="#fff" stroke="#333" stroke-width="0.9"/>
<circle cx="371.7" cy="74.3" r="2.16" fill="#fff" stroke="#333" stroke-width="0.9"/>
<circle cx="403.5" cy="75.1" r="2.16" fill="#fff" stroke="#333" stroke-width="0.9"/>
<circle cx="435.3" cy="76.7" r="2.16" fill="#fff" stroke="#333" stroke-width="0.9"/>
<circle cx="467.1" cy="78.8" r="2.16" fill="#fff" stroke="#333" stroke-width="0.9"/>
<line x1="309.7" y1="108.1" x2="312.5" y2="108.1" stroke="#ff2a2a" stroke-width="1.2"/>
<line x1="320" y1="108.1" x2="321.9" y2="108.1" stroke="#ff2a2a" stroke-width="1.2"/>
<circle cx="315.6" cy="108.1" r="2.16" fill="#fff" stroke="#333" stroke-width="0.9"/>
<text x="327.8" y="110.57" font-size="6.9" font-weight="bold" textLength="71.2" lengthAdjust="spacingAndGlyphs" fill="#222">PD0325901, AUC=0.600</text>
<line x1="309.7" y1="120" x2="312.5" y2="120" stroke="#2a2aff" stroke-width="1.2"/>
<line x1="320" y1="120" x2="321.9" y2="120" stroke="#2a2aff" stroke-width="1.2"/>
<rect x="313.52" y="117.92" width="4.17" height="4.17" fill="#fff" stroke="#3a3a3a" stroke-width="0.9"/>
<text x="327.8" y="122.47" font-size="6.9" font-weight="bold" textLength="67.8" lengthAdjust="spacingAndGlyphs" fill="#222">Dactolisib, AUC=0.652</text>
<line x1="309.8" y1="132.1" x2="321.4" y2="132.1" stroke="#22ee22" stroke-width="1.2"/>
<path d="M315.6,129.73 L317.97,134.35 L313.23,134.35 Z" fill="#111"/>
<text x="327.8" y="134.57" font-size="6.9" font-weight="bold" textLength="105.2" lengthAdjust="spacingAndGlyphs" fill="#222">PD0325901/Dactolisib, AUC=0.385</text>
<line x1="574.4" y1="35.3" x2="574.4" y2="142.4" stroke="#5e5e5e" stroke-width="1.25"/>
<line x1="574.4" y1="139.8" x2="734.65" y2="139.8" stroke="#5e5e5e" stroke-width="1.2"/>
<line x1="571.4" y1="139.6" x2="574.4" y2="139.6" stroke="#5e5e5e" stroke-width="1"/>
<text x="570.2" y="142.48" font-size="8.03" font-weight="bold" text-anchor="end" fill="#222">0</text>
<line x1="571.4" y1="118.74" x2="574.4" y2="118.74" stroke="#5e5e5e" stroke-width="1"/>
<text x="570.2" y="121.62" font-size="8.03" font-weight="bold" text-anchor="end" fill="#222">20</text>
<line x1="571.4" y1="97.88" x2="574.4" y2="97.88" stroke="#5e5e5e" stroke-width="1"/>
<text x="570.2" y="100.76" font-size="8.03" font-weight="bold" text-anchor="end" fill="#222">40</text>
<line x1="571.4" y1="77.02" x2="574.4" y2="77.02" stroke="#5e5e5e" stroke-width="1"/>
<text x="570.2" y="79.9" font-size="8.03" font-weight="bold" text-anchor="end" fill="#222">60</text>
<line x1="571.4" y1="56.16" x2="574.4" y2="56.16" stroke="#5e5e5e" stroke-width="1"/>
<text x="570.2" y="59.04" font-size="8.03" font-weight="bold" text-anchor="end" fill="#222">80</text>
<line x1="571.4" y1="35.3" x2="574.4" y2="35.3" stroke="#5e5e5e" stroke-width="1"/>
<text x="570.2" y="38.18" font-size="8.03" font-weight="bold" text-anchor="end" fill="#222">100</text>
<line x1="574.4" y1="139.8" x2="574.4" y2="142.4" stroke="#5e5e5e" stroke-width="1"/>
<text x="573.5" y="152.08" font-size="8.03" font-weight="bold" text-anchor="middle" fill="#222">-3</text>
<line x1="606.35" y1="139.8" x2="606.35" y2="142.4" stroke="#5e5e5e" stroke-width="1"/>
<text x="605.45" y="152.08" font-size="8.03" font-weight="bold" text-anchor="middle" fill="#222">-2</text>
<line x1="638.3" y1="139.8" x2="638.3" y2="142.4" stroke="#5e5e5e" stroke-width="1"/>
<text x="637.4" y="152.08" font-size="8.03" font-weight="bold" text-anchor="middle" fill="#222">-1</text>
<line x1="670.25" y1="139.8" x2="670.25" y2="142.4" stroke="#5e5e5e" stroke-width="1"/>
<text x="670.25" y="152.08" font-size="8.03" font-weight="bold" text-anchor="middle" fill="#222">0</text>
<line x1="702.2" y1="139.8" x2="702.2" y2="142.4" stroke="#5e5e5e" stroke-width="1"/>
<text x="702.2" y="152.08" font-size="8.03" font-weight="bold" text-anchor="middle" fill="#222">1</text>
<line x1="734.15" y1="139.8" x2="734.15" y2="142.4" stroke="#5e5e5e" stroke-width="1"/>
<text x="734.15" y="152.08" font-size="8.03" font-weight="bold" text-anchor="middle" fill="#222">2</text>
<text x="654.27" y="163.6" font-size="7.83" font-weight="bold" text-anchor="middle" textLength="81.68" lengthAdjust="spacingAndGlyphs" fill="#222">Log2 (multiple of IC<tspan font-size="5.77" dy="1.8">50</tspan><tspan dy="-1.8">)</tspan></text>
<text x="549.8" y="88.88" font-size="8.6" font-weight="bold" text-anchor="middle" textLength="59.5" lengthAdjust="spacingAndGlyphs" fill="#222" transform="rotate(-90 549.8 86.7)">Percent Viability</text>
<path d="M606.35,63.9 L607.95,64.18 L609.55,64.45 L611.14,64.71 L612.74,64.98 L614.34,65.24 L615.94,65.51 L617.53,65.79 L619.13,66.08 L620.73,66.38 L622.33,66.7 L623.92,67.04 L625.52,67.4 L627.12,67.78 L628.72,68.17 L630.31,68.57 L631.91,68.98 L633.51,69.39 L635.11,69.8 L636.7,70.2 L638.3,70.6 L639.9,71 L641.5,71.41 L643.09,71.83 L644.69,72.25 L646.29,72.67 L647.88,73.07 L649.48,73.47 L651.08,73.84 L652.68,74.19 L654.27,74.5 L655.87,74.8 L657.47,75.08 L659.07,75.37 L660.66,75.64 L662.26,75.9 L663.86,76.14 L665.46,76.36 L667.05,76.57 L668.65,76.75 L670.25,76.9 L671.85,77.04 L673.45,77.17 L675.04,77.29 L676.64,77.41 L678.24,77.52 L679.84,77.62 L681.43,77.71 L683.03,77.79 L684.63,77.87 L686.23,77.93 L687.82,77.99 L689.42,78.04 L691.02,78.09 L692.62,78.13 L694.21,78.17 L695.81,78.21 L697.41,78.24 L699,78.27 L700.6,78.29 L702.2,78.3 L703.8,78.31 L705.39,78.32 L706.99,78.33 L708.59,78.33 L710.19,78.34 L711.78,78.34 L713.38,78.35 L714.98,78.35 L716.58,78.36 L718.17,78.36 L719.77,78.37 L721.37,78.37 L722.97,78.37 L724.56,78.38 L726.16,78.38 L727.76,78.38 L729.36,78.39 L730.95,78.39 L732.55,78.4 L734.15,78.4" stroke="#ff2a2a" stroke-width="1.25" fill="none" stroke-dasharray="3.4,1.7"/>
<path d="M606.35,55.5 L607.95,55.94 L609.55,56.38 L611.14,56.81 L612.74,57.24 L614.34,57.67 L615.94,58.11 L617.53,58.56 L619.13,59.02 L620.73,59.5 L622.33,60 L623.92,60.53 L625.52,61.09 L627.12,61.67 L628.72,62.27 L630.31,62.89 L631.91,63.51 L633.51,64.14 L635.11,64.77 L636.7,65.39 L638.3,66 L639.9,66.62 L641.5,67.25 L643.09,67.9 L644.69,68.55 L646.29,69.2 L647.88,69.84 L649.48,70.45 L651.08,71.04 L652.68,71.59 L654.27,72.1 L655.87,72.59 L657.47,73.07 L659.07,73.55 L660.66,74.02 L662.26,74.46 L663.86,74.88 L665.46,75.26 L667.05,75.59 L668.65,75.88 L670.25,76.1 L671.85,76.29 L673.45,76.46 L675.04,76.62 L676.64,76.77 L678.24,76.9 L679.84,77.03 L681.43,77.14 L683.03,77.24 L684.63,77.33 L686.23,77.41 L687.82,77.49 L689.42,77.55 L691.02,77.61 L692.62,77.67 L694.21,77.72 L695.81,77.76 L697.41,77.8 L699,77.84 L700.6,77.87 L702.2,77.9 L703.8,77.92 L705.39,77.94 L706.99,77.96 L708.59,77.98 L710.19,78 L711.78,78.02 L713.38,78.03 L714.98,78.05 L716.58,78.06 L718.17,78.07 L719.77,78.09 L721.37,78.1 L722.97,78.11 L724.56,78.12 L726.16,78.13 L727.76,78.15 L729.36,78.16 L730.95,78.17 L732.55,78.19 L734.15,78.2" stroke="#2a2aff" stroke-width="1.25" fill="none" stroke-dasharray="3.4,1.7"/>
<path d="M606.35,63 L607.95,63.29 L609.55,63.56 L611.14,63.82 L612.74,64.07 L614.34,64.33 L615.94,64.61 L617.53,64.9 L619.13,65.23 L620.73,65.59 L622.33,66 L623.92,66.5 L625.52,67.11 L627.12,67.82 L628.72,68.6 L630.31,69.44 L631.91,70.33 L633.51,71.23 L635.11,72.14 L636.7,73.04 L638.3,73.9 L639.9,74.77 L641.5,75.67 L643.09,76.6 L644.69,77.55 L646.29,78.5 L647.88,79.44 L649.48,80.37 L651.08,81.26 L652.68,82.11 L654.27,82.9 L655.87,83.66 L657.47,84.42 L659.07,85.18 L660.66,85.91 L662.26,86.62 L663.86,87.29 L665.46,87.93 L667.05,88.51 L668.65,89.04 L670.25,89.5 L671.85,89.92 L673.45,90.33 L675.04,90.72 L676.64,91.09 L678.24,91.44 L679.84,91.76 L681.43,92.07 L683.03,92.34 L684.63,92.58 L686.23,92.79 L687.82,92.97 L689.42,93.12 L691.02,93.26 L692.62,93.39 L694.21,93.5 L695.81,93.61 L697.41,93.7 L699,93.78 L700.6,93.85 L702.2,93.9 L703.8,93.94 L705.39,93.98 L706.99,94.02 L708.59,94.05 L710.19,94.08 L711.78,94.1 L713.38,94.13 L714.98,94.15 L716.58,94.18 L718.17,94.2 L719.77,94.22 L721.37,94.24 L722.97,94.25 L724.56,94.27 L726.16,94.29 L727.76,94.31 L729.36,94.33 L730.95,94.35 L732.55,94.38 L734.15,94.4" stroke="#22ee22" stroke-width="1.25" fill="none"/>
<line x1="606.35" y1="60.1" x2="606.35" y2="68.1" stroke="#333" stroke-width="0.8"/>
<line x1="604.35" y1="60.1" x2="608.35" y2="60.1" stroke="#333" stroke-width="0.8"/>
<line x1="604.35" y1="68.1" x2="608.35" y2="68.1" stroke="#333" stroke-width="0.8"/>
<line x1="638.3" y1="68.9" x2="638.3" y2="72.9" stroke="#333" stroke-width="0.8"/>
<line x1="636.3" y1="68.9" x2="640.3" y2="68.9" stroke="#333" stroke-width="0.8"/>
<line x1="636.3" y1="72.9" x2="640.3" y2="72.9" stroke="#333" stroke-width="0.8"/>
<line x1="670.25" y1="75.6" x2="670.25" y2="77.6" stroke="#333" stroke-width="0.8"/>
<line x1="668.25" y1="75.6" x2="672.25" y2="75.6" stroke="#333" stroke-width="0.8"/>
<line x1="668.25" y1="77.6" x2="672.25" y2="77.6" stroke="#333" stroke-width="0.8"/>
<line x1="702.2" y1="76.7" x2="702.2" y2="78.7" stroke="#333" stroke-width="0.8"/>
<line x1="700.2" y1="76.7" x2="704.2" y2="76.7" stroke="#333" stroke-width="0.8"/>
<line x1="700.2" y1="78.7" x2="704.2" y2="78.7" stroke="#333" stroke-width="0.8"/>
<line x1="734.15" y1="77.3" x2="734.15" y2="79.3" stroke="#333" stroke-width="0.8"/>
<line x1="732.15" y1="77.3" x2="736.15" y2="77.3" stroke="#333" stroke-width="0.8"/>
<line x1="732.15" y1="79.3" x2="736.15" y2="79.3" stroke="#333" stroke-width="0.8"/>
<line x1="606.35" y1="50.7" x2="606.35" y2="59.3" stroke="#333" stroke-width="0.8"/>
<line x1="604.35" y1="50.7" x2="608.35" y2="50.7" stroke="#333" stroke-width="0.8"/>
<line x1="604.35" y1="59.3" x2="608.35" y2="59.3" stroke="#333" stroke-width="0.8"/>
<line x1="638.3" y1="62.9" x2="638.3" y2="70.9" stroke="#333" stroke-width="0.8"/>
<line x1="636.3" y1="62.9" x2="640.3" y2="62.9" stroke="#333" stroke-width="0.8"/>
<line x1="636.3" y1="70.9" x2="640.3" y2="70.9" stroke="#333" stroke-width="0.8"/>
<line x1="670.25" y1="71.8" x2="670.25" y2="76.4" stroke="#333" stroke-width="0.8"/>
<line x1="668.25" y1="71.8" x2="672.25" y2="71.8" stroke="#333" stroke-width="0.8"/>
<line x1="668.25" y1="76.4" x2="672.25" y2="76.4" stroke="#333" stroke-width="0.8"/>
<line x1="702.2" y1="74" x2="702.2" y2="78" stroke="#333" stroke-width="0.8"/>
<line x1="700.2" y1="74" x2="704.2" y2="74" stroke="#333" stroke-width="0.8"/>
<line x1="700.2" y1="78" x2="704.2" y2="78" stroke="#333" stroke-width="0.8"/>
<line x1="734.15" y1="78.6" x2="734.15" y2="81.6" stroke="#333" stroke-width="0.8"/>
<line x1="732.15" y1="78.6" x2="736.15" y2="78.6" stroke="#333" stroke-width="0.8"/>
<line x1="732.15" y1="81.6" x2="736.15" y2="81.6" stroke="#333" stroke-width="0.8"/>
<line x1="606.35" y1="58.6" x2="606.35" y2="68.6" stroke="#333" stroke-width="0.8"/>
<line x1="604.35" y1="58.6" x2="608.35" y2="58.6" stroke="#333" stroke-width="0.8"/>
<line x1="604.35" y1="68.6" x2="608.35" y2="68.6" stroke="#333" stroke-width="0.8"/>
<line x1="638.3" y1="69.1" x2="638.3" y2="79.1" stroke="#333" stroke-width="0.8"/>
<line x1="636.3" y1="69.1" x2="640.3" y2="69.1" stroke="#333" stroke-width="0.8"/>
<line x1="636.3" y1="79.1" x2="640.3" y2="79.1" stroke="#333" stroke-width="0.8"/>
<line x1="670.25" y1="87.9" x2="670.25" y2="91.9" stroke="#333" stroke-width="0.8"/>
<line x1="668.25" y1="87.9" x2="672.25" y2="87.9" stroke="#333" stroke-width="0.8"/>
<line x1="668.25" y1="91.9" x2="672.25" y2="91.9" stroke="#333" stroke-width="0.8"/>
<line x1="702.2" y1="87.6" x2="702.2" y2="96.2" stroke="#333" stroke-width="0.8"/>
<line x1="700.2" y1="87.6" x2="704.2" y2="87.6" stroke="#333" stroke-width="0.8"/>
<line x1="700.2" y1="96.2" x2="704.2" y2="96.2" stroke="#333" stroke-width="0.8"/>
<line x1="734.15" y1="90.9" x2="734.15" y2="103.9" stroke="#333" stroke-width="0.8"/>
<line x1="732.15" y1="90.9" x2="736.15" y2="90.9" stroke="#333" stroke-width="0.8"/>
<line x1="732.15" y1="103.9" x2="736.15" y2="103.9" stroke="#333" stroke-width="0.8"/>
<path d="M606.35,61.23 L608.72,65.85 L603.98,65.85 Z" fill="#111"/>
<path d="M638.3,71.73 L640.67,76.35 L635.93,76.35 Z" fill="#111"/>
<path d="M670.25,87.53 L672.62,92.15 L667.88,92.15 Z" fill="#111"/>
<path d="M702.2,89.53 L704.57,94.15 L699.83,94.15 Z" fill="#111"/>
<path d="M734.15,95.03 L736.52,99.65 L731.78,99.65 Z" fill="#111"/>
<rect x="604.08" y="52.73" width="4.53" height="4.53" fill="#fff" stroke="#3a3a3a" stroke-width="0.9"/>
<rect x="636.03" y="64.63" width="4.53" height="4.53" fill="#fff" stroke="#3a3a3a" stroke-width="0.9"/>
<rect x="667.98" y="71.83" width="4.53" height="4.53" fill="#fff" stroke="#3a3a3a" stroke-width="0.9"/>
<rect x="699.93" y="73.73" width="4.53" height="4.53" fill="#fff" stroke="#3a3a3a" stroke-width="0.9"/>
<rect x="731.88" y="77.83" width="4.53" height="4.53" fill="#fff" stroke="#3a3a3a" stroke-width="0.9"/>
<circle cx="606.35" cy="64.1" r="2.16" fill="#fff" stroke="#333" stroke-width="0.9"/>
<circle cx="638.3" cy="70.9" r="2.16" fill="#fff" stroke="#333" stroke-width="0.9"/>
<circle cx="670.25" cy="76.6" r="2.16" fill="#fff" stroke="#333" stroke-width="0.9"/>
<circle cx="702.2" cy="77.7" r="2.16" fill="#fff" stroke="#333" stroke-width="0.9"/>
<circle cx="734.15" cy="78.3" r="2.16" fill="#fff" stroke="#333" stroke-width="0.9"/>
<line x1="584.5" y1="110.2" x2="587.3" y2="110.2" stroke="#ff2a2a" stroke-width="1.2"/>
<line x1="594.8" y1="110.2" x2="596.7" y2="110.2" stroke="#ff2a2a" stroke-width="1.2"/>
<circle cx="590.4" cy="110.2" r="2.16" fill="#fff" stroke="#333" stroke-width="0.9"/>
<text x="602" y="112.67" font-size="6.9" font-weight="bold" textLength="74.4" lengthAdjust="spacingAndGlyphs" fill="#222">Selumetinib, AUC=0.627</text>
<line x1="584.5" y1="122.6" x2="587.3" y2="122.6" stroke="#2a2aff" stroke-width="1.2"/>
<line x1="594.8" y1="122.6" x2="596.7" y2="122.6" stroke="#2a2aff" stroke-width="1.2"/>
<rect x="588.32" y="120.52" width="4.17" height="4.17" fill="#fff" stroke="#3a3a3a" stroke-width="0.9"/>
<text x="602" y="125.07" font-size="6.9" font-weight="bold" textLength="68.1" lengthAdjust="spacingAndGlyphs" fill="#222">Dactolisib, AUC=0.652</text>
<line x1="584.6" y1="134.8" x2="596.2" y2="134.8" stroke="#22ee22" stroke-width="1.2"/>
<path d="M590.4,132.43 L592.77,137.05 L588.03,137.05 Z" fill="#111"/>
<text x="602" y="137.27" font-size="6.9" font-weight="bold" textLength="108.3" lengthAdjust="spacingAndGlyphs" fill="#222">Selumetinib/Dactolisib, AUC=0.535</text>
<line x1="47.2" y1="226.8" x2="47.2" y2="400.3" stroke="#3a3a3a" stroke-width="1.1"/>
<line x1="47.2" y1="397.8" x2="228.4" y2="397.8" stroke="#3a3a3a" stroke-width="1.1"/>
<line x1="44.2" y1="227" x2="47.2" y2="227" stroke="#3a3a3a" stroke-width="1"/>
<text x="38.3" y="229.49" font-size="8.9" font-weight="bold" text-anchor="end">0.40</text>
<line x1="44.2" y1="269.65" x2="47.2" y2="269.65" stroke="#3a3a3a" stroke-width="1"/>
<text x="38.3" y="272.14" font-size="8.9" font-weight="bold" text-anchor="end">0.30</text>
<line x1="44.2" y1="312.3" x2="47.2" y2="312.3" stroke="#3a3a3a" stroke-width="1"/>
<text x="38.3" y="314.79" font-size="8.9" font-weight="bold" text-anchor="end">0.20</text>
<line x1="44.2" y1="354.95" x2="47.2" y2="354.95" stroke="#3a3a3a" stroke-width="1"/>
<text x="38.3" y="357.44" font-size="8.9" font-weight="bold" text-anchor="end">0.10</text>
<line x1="44.2" y1="397.6" x2="47.2" y2="397.6" stroke="#3a3a3a" stroke-width="1"/>
<text x="38.3" y="400.09" font-size="8.9" font-weight="bold" text-anchor="end">0.00</text>
<line x1="47.2" y1="397.8" x2="47.2" y2="400.3" stroke="#3a3a3a" stroke-width="1"/>
<text x="47.2" y="412.99" font-size="8.9" font-weight="bold" text-anchor="middle">0.30</text>
<line x1="92.4" y1="397.8" x2="92.4" y2="400.3" stroke="#3a3a3a" stroke-width="1"/>
<text x="92.4" y="412.99" font-size="8.9" font-weight="bold" text-anchor="middle">0.40</text>
<line x1="137.6" y1="397.8" x2="137.6" y2="400.3" stroke="#3a3a3a" stroke-width="1"/>
<text x="137.6" y="412.99" font-size="8.9" font-weight="bold" text-anchor="middle">0.50</text>
<line x1="182.8" y1="397.8" x2="182.8" y2="400.3" stroke="#3a3a3a" stroke-width="1"/>
<text x="182.8" y="412.99" font-size="8.9" font-weight="bold" text-anchor="middle">0.60</text>
<line x1="228" y1="397.8" x2="228" y2="400.3" stroke="#3a3a3a" stroke-width="1"/>
<text x="228" y="412.99" font-size="8.9" font-weight="bold" text-anchor="middle">0.70</text>
<line x1="48.2" y1="269.1" x2="208.5" y2="269.1" stroke="#3a3a3a" stroke-width="0.75" stroke-dasharray="1.5,1.5"/>
<line x1="48.2" y1="354.2" x2="228.5" y2="354.2" stroke="#3a3a3a" stroke-width="0.75" stroke-dasharray="1.5,1.5"/>
<text x="74.2" y="205.84" font-size="9.9" font-weight="bold" textLength="106.4" lengthAdjust="spacingAndGlyphs" fill="#111">Trametinib/Dactolisib</text>
<text x="93.9" y="428.68" font-size="8.6" font-weight="bold" textLength="86.9" lengthAdjust="spacingAndGlyphs">Fraction affected (Fa)</text>
<text x="11.8" y="313.94" font-size="8.6" font-weight="bold" text-anchor="middle" textLength="96" lengthAdjust="spacingAndGlyphs" transform="rotate(-90 11.8 311.7)">Combination Index (CI)</text>
<text x="94.7" y="250.67" font-size="9" textLength="41.3" lengthAdjust="spacingAndGlyphs" fill="#222">Synergism</text>
<text x="76" y="318.47" font-size="9" textLength="69" lengthAdjust="spacingAndGlyphs" fill="#222">Strong synergism</text>
<text x="74.8" y="384.77" font-size="9" textLength="89.2" lengthAdjust="spacingAndGlyphs" fill="#222">Very strong synergism</text>
<rect x="180.4" y="215.8" width="45.3" height="49.7" fill="#fff" stroke="#222" stroke-width="0.9"/>
<circle cx="185.4" cy="222.9" r="1.92" fill="#10f010" stroke="#111" stroke-width="0.8"/>
<text x="192.4" y="225.32" font-size="7.6" font-weight="bold" textLength="31.9" lengthAdjust="spacingAndGlyphs">0.25×IC<tspan font-size="5.2" dy="1.7">50</tspan></text>
<rect x="183.48" y="229.68" width="3.84" height="3.84" fill="#10f010" stroke="#111" stroke-width="0.8"/>
<text x="192.4" y="234.02" font-size="7.6" font-weight="bold" textLength="27.7" lengthAdjust="spacingAndGlyphs">0.5×IC<tspan font-size="5.2" dy="1.7">50</tspan></text>
<path d="M185.4,238.65 L187.45,242.28 L183.35,242.28 Z" fill="#10f010" stroke="#111" stroke-width="0.8"/>
<text x="192.4" y="243.12" font-size="7.6" font-weight="bold" textLength="22.2" lengthAdjust="spacingAndGlyphs">1×IC<tspan font-size="5.2" dy="1.7">50</tspan></text>
<path d="M185.4,248.1 L187.2,249.9 L185.4,251.7 L183.6,249.9 Z" fill="#10f010" stroke="#111" stroke-width="0.8"/>
<text x="192.4" y="252.32" font-size="7.6" font-weight="bold" textLength="22.2" lengthAdjust="spacingAndGlyphs">2×IC<tspan font-size="5.2" dy="1.7">50</tspan></text>
<rect x="183.29" y="257.39" width="4.22" height="4.22" fill="#10f010"/>
<path d="M183.71,257.81 L187.09,261.19 M187.09,257.81 L183.71,261.19" stroke="#111" stroke-width="0.74"/>
<text x="192.4" y="261.92" font-size="7.6" font-weight="bold" textLength="22.2" lengthAdjust="spacingAndGlyphs">4×IC<tspan font-size="5.2" dy="1.7">50</tspan></text>
<circle cx="69.7" cy="260.8" r="3.1" fill="#10f010" stroke="#111" stroke-width="0.9"/>
<rect x="179.4" y="280.8" width="6.8" height="6.8" fill="#10f010"/>
<path d="M180.08,281.48 L185.52,286.92 M185.52,281.48 L180.08,286.92" stroke="#111" stroke-width="1.2"/>
<path d="M169.1,315.2 L172,318.1 L169.1,321 L166.2,318.1 Z" fill="#10f010" stroke="#111" stroke-width="0.9"/>
<path d="M164.6,350 L167.9,355.85 L161.3,355.85 Z" fill="#10f010" stroke="#111" stroke-width="0.9"/>
<rect x="152.9" y="366.4" width="6.2" height="6.2" fill="#10f010" stroke="#111" stroke-width="0.9"/>
<line x1="309.2" y1="228.7" x2="309.2" y2="400.3" stroke="#3a3a3a" stroke-width="1.1"/>
<line x1="309.2" y1="397.8" x2="490.9" y2="397.8" stroke="#3a3a3a" stroke-width="1.1"/>
<line x1="306.2" y1="228.7" x2="309.2" y2="228.7" stroke="#3a3a3a" stroke-width="1"/>
<text x="300.6" y="231.19" font-size="8.9" font-weight="bold" text-anchor="end">0.30</text>
<line x1="306.2" y1="285" x2="309.2" y2="285" stroke="#3a3a3a" stroke-width="1"/>
<text x="300.6" y="287.49" font-size="8.9" font-weight="bold" text-anchor="end">0.20</text>
<line x1="306.2" y1="341.3" x2="309.2" y2="341.3" stroke="#3a3a3a" stroke-width="1"/>
<text x="300.6" y="343.79" font-size="8.9" font-weight="bold" text-anchor="end">0.10</text>
<line x1="306.2" y1="397.6" x2="309.2" y2="397.6" stroke="#3a3a3a" stroke-width="1"/>
<text x="300.6" y="400.09" font-size="8.9" font-weight="bold" text-anchor="end">0.00</text>
<line x1="309.2" y1="397.8" x2="309.2" y2="400.3" stroke="#3a3a3a" stroke-width="1"/>
<text x="309.2" y="412.99" font-size="8.9" font-weight="bold" text-anchor="middle">0.40</text>
<line x1="354.5" y1="397.8" x2="354.5" y2="400.3" stroke="#3a3a3a" stroke-width="1"/>
<text x="354.5" y="412.99" font-size="8.9" font-weight="bold" text-anchor="middle">0.50</text>
<line x1="399.8" y1="397.8" x2="399.8" y2="400.3" stroke="#3a3a3a" stroke-width="1"/>
<text x="399.8" y="412.99" font-size="8.9" font-weight="bold" text-anchor="middle">0.60</text>
<line x1="445.1" y1="397.8" x2="445.1" y2="400.3" stroke="#3a3a3a" stroke-width="1"/>
<text x="445.1" y="412.99" font-size="8.9" font-weight="bold" text-anchor="middle">0.70</text>
<line x1="490.4" y1="397.8" x2="490.4" y2="400.3" stroke="#3a3a3a" stroke-width="1"/>
<text x="490.4" y="412.99" font-size="8.9" font-weight="bold" text-anchor="middle">0.80</text>
<line x1="310.2" y1="228.8" x2="439.4" y2="228.8" stroke="#3a3a3a" stroke-width="0.75" stroke-dasharray="1.5,1.5"/>
<line x1="310.2" y1="342.1" x2="471.3" y2="342.1" stroke="#3a3a3a" stroke-width="0.75" stroke-dasharray="1.5,1.5"/>
<text x="331.3" y="206.44" font-size="9.9" font-weight="bold" textLength="109.9" lengthAdjust="spacingAndGlyphs" fill="#111">PD0325901/Dactolisib</text>
<text x="356.5" y="428.58" font-size="8.6" font-weight="bold" textLength="86.8" lengthAdjust="spacingAndGlyphs">Fraction affected (Fa)</text>
<text x="275" y="314.74" font-size="8.6" font-weight="bold" text-anchor="middle" textLength="95" lengthAdjust="spacingAndGlyphs" transform="rotate(-90 275 312.5)">Combination Index (CI)</text>
<text x="353.4" y="292.77" font-size="9" textLength="68.7" lengthAdjust="spacingAndGlyphs" fill="#222">Strong synergism</text>
<text x="341.2" y="375.87" font-size="9" textLength="89.1" lengthAdjust="spacingAndGlyphs" fill="#222">Very strong synergism</text>
<rect x="439.4" y="217.5" width="46.4" height="50.1" fill="#fff" stroke="#222" stroke-width="0.9"/>
<circle cx="445" cy="223.9" r="1.92" fill="#10f010" stroke="#111" stroke-width="0.8"/>
<text x="451.7" y="226.32" font-size="7.6" font-weight="bold" textLength="32.3" lengthAdjust="spacingAndGlyphs">0.25×IC<tspan font-size="5.2" dy="1.7">50</tspan></text>
<rect x="443.08" y="231.68" width="3.84" height="3.84" fill="#10f010" stroke="#111" stroke-width="0.8"/>
<text x="451.7" y="236.02" font-size="7.6" font-weight="bold" textLength="28" lengthAdjust="spacingAndGlyphs">0.5×IC<tspan font-size="5.2" dy="1.7">50</tspan></text>
<path d="M445,241.15 L447.05,244.78 L442.95,244.78 Z" fill="#10f010" stroke="#111" stroke-width="0.8"/>
<text x="451.7" y="245.62" font-size="7.6" font-weight="bold" textLength="22.1" lengthAdjust="spacingAndGlyphs">1×IC<tspan font-size="5.2" dy="1.7">50</tspan></text>
<path d="M445,250.1 L446.8,251.9 L445,253.7 L443.2,251.9 Z" fill="#10f010" stroke="#111" stroke-width="0.8"/>
<text x="451.7" y="254.32" font-size="7.6" font-weight="bold" textLength="22.1" lengthAdjust="spacingAndGlyphs">2×IC<tspan font-size="5.2" dy="1.7">50</tspan></text>
<rect x="442.89" y="259.79" width="4.22" height="4.22" fill="#10f010"/>
<path d="M443.31,260.21 L446.69,263.59 M446.69,260.21 L443.31,263.59" stroke="#111" stroke-width="0.74"/>
<text x="451.7" y="264.32" font-size="7.6" font-weight="bold" textLength="22.1" lengthAdjust="spacingAndGlyphs">4×IC<tspan font-size="5.2" dy="1.7">50</tspan></text>
<circle cx="318.4" cy="275.6" r="3.1" fill="#10f010" stroke="#111" stroke-width="0.9"/>
<rect x="360.5" y="339" width="6.2" height="6.2" fill="#10f010" stroke="#111" stroke-width="0.9"/>
<path d="M422.7,320.1 L426,325.95 L419.4,325.95 Z" fill="#10f010" stroke="#111" stroke-width="0.9"/>
<path d="M444.9,324.2 L447.8,327.1 L444.9,330 L442,327.1 Z" fill="#10f010" stroke="#111" stroke-width="0.9"/>
<rect x="464.4" y="370.2" width="6.8" height="6.8" fill="#10f010"/>
<path d="M465.08,370.88 L470.52,376.32 M470.52,370.88 L465.08,376.32" stroke="#111" stroke-width="1.2"/>
<line x1="576.3" y1="229.5" x2="576.3" y2="400.7" stroke="#3a3a3a" stroke-width="1.1"/>
<line x1="576.3" y1="398.2" x2="756.7" y2="398.2" stroke="#3a3a3a" stroke-width="1.1"/>
<line x1="573.3" y1="397.3" x2="576.3" y2="397.3" stroke="#3a3a3a" stroke-width="1"/>
<text x="568.3" y="399.79" font-size="8.9" font-weight="bold" text-anchor="end">0.0</text>
<line x1="573.3" y1="376.36" x2="576.3" y2="376.36" stroke="#3a3a3a" stroke-width="1"/>
<text x="568.3" y="378.85" font-size="8.9" font-weight="bold" text-anchor="end">0.3</text>
<line x1="573.3" y1="355.42" x2="576.3" y2="355.42" stroke="#3a3a3a" stroke-width="1"/>
<text x="568.3" y="357.91" font-size="8.9" font-weight="bold" text-anchor="end">0.6</text>
<line x1="573.3" y1="334.48" x2="576.3" y2="334.48" stroke="#3a3a3a" stroke-width="1"/>
<text x="568.3" y="336.97" font-size="8.9" font-weight="bold" text-anchor="end">0.9</text>
<line x1="573.3" y1="313.54" x2="576.3" y2="313.54" stroke="#3a3a3a" stroke-width="1"/>
<text x="568.3" y="316.03" font-size="8.9" font-weight="bold" text-anchor="end">1.2</text>
<line x1="573.3" y1="292.6" x2="576.3" y2="292.6" stroke="#3a3a3a" stroke-width="1"/>
<text x="568.3" y="295.09" font-size="8.9" font-weight="bold" text-anchor="end">1.5</text>
<line x1="573.3" y1="271.66" x2="576.3" y2="271.66" stroke="#3a3a3a" stroke-width="1"/>
<text x="568.3" y="274.15" font-size="8.9" font-weight="bold" text-anchor="end">1.8</text>
<line x1="573.3" y1="250.72" x2="576.3" y2="250.72" stroke="#3a3a3a" stroke-width="1"/>
<text x="568.3" y="253.21" font-size="8.9" font-weight="bold" text-anchor="end">2.1</text>
<line x1="573.3" y1="229.78" x2="576.3" y2="229.78" stroke="#3a3a3a" stroke-width="1"/>
<text x="568.3" y="232.27" font-size="8.9" font-weight="bold" text-anchor="end">2.4</text>
<line x1="576.7" y1="398.2" x2="576.7" y2="400.7" stroke="#3a3a3a" stroke-width="1"/>
<text x="576.7" y="412.99" font-size="8.9" font-weight="bold" text-anchor="middle">0.26</text>
<line x1="621.6" y1="398.2" x2="621.6" y2="400.7" stroke="#3a3a3a" stroke-width="1"/>
<text x="621.6" y="412.99" font-size="8.9" font-weight="bold" text-anchor="middle">0.36</text>
<line x1="666.5" y1="398.2" x2="666.5" y2="400.7" stroke="#3a3a3a" stroke-width="1"/>
<text x="666.5" y="412.99" font-size="8.9" font-weight="bold" text-anchor="middle">0.46</text>
<line x1="711.4" y1="398.2" x2="711.4" y2="400.7" stroke="#3a3a3a" stroke-width="1"/>
<text x="711.4" y="412.99" font-size="8.9" font-weight="bold" text-anchor="middle">0.56</text>
<line x1="756.3" y1="398.2" x2="756.3" y2="400.7" stroke="#3a3a3a" stroke-width="1"/>
<text x="756.3" y="412.99" font-size="8.9" font-weight="bold" text-anchor="middle">0.66</text>
<line x1="577.3" y1="293.2" x2="750.6" y2="293.2" stroke="#3a3a3a" stroke-width="0.75" stroke-dasharray="1.5,1.5"/>
<line x1="577.3" y1="318.6" x2="748.2" y2="318.6" stroke="#3a3a3a" stroke-width="0.75" stroke-dasharray="1.5,1.5"/>
<line x1="577.3" y1="342.9" x2="748.2" y2="342.9" stroke="#3a3a3a" stroke-width="0.75" stroke-dasharray="1.5,1.5"/>
<line x1="577.3" y1="375.8" x2="748.2" y2="375.8" stroke="#3a3a3a" stroke-width="0.75" stroke-dasharray="1.5,1.5"/>
<text x="597.3" y="205.14" font-size="9.9" font-weight="bold" textLength="113.1" lengthAdjust="spacingAndGlyphs" fill="#111">Selumetinib/Dactolisib</text>
<text x="622.9" y="428.78" font-size="8.6" font-weight="bold" textLength="86.9" lengthAdjust="spacingAndGlyphs">Fraction affected (Fa)</text>
<text x="546.7" y="315.74" font-size="8.6" font-weight="bold" text-anchor="middle" textLength="94" lengthAdjust="spacingAndGlyphs" transform="rotate(-90 546.7 313.5)">Combination Index (CI)</text>
<text x="627.6" y="264.77" font-size="9" textLength="47.4" lengthAdjust="spacingAndGlyphs" fill="#222">Antagonism</text>
<text x="639.7" y="336.07" font-size="9" textLength="82.9" lengthAdjust="spacingAndGlyphs" fill="#222">Moderate synergism</text>
<text x="635.6" y="358.77" font-size="9" textLength="41.2" lengthAdjust="spacingAndGlyphs" fill="#222">Synergism</text>
<text x="630.7" y="389.17" font-size="9" textLength="68.3" lengthAdjust="spacingAndGlyphs" fill="#222">Strong synergism</text>
<rect x="704.1" y="217.3" width="46.1" height="49.9" fill="#fff" stroke="#222" stroke-width="0.9"/>
<circle cx="709.4" cy="223.6" r="1.92" fill="#10f010" stroke="#111" stroke-width="0.8"/>
<text x="716.3" y="226.02" font-size="7.6" font-weight="bold" textLength="31.9" lengthAdjust="spacingAndGlyphs">0.25×IC<tspan font-size="5.2" dy="1.7">50</tspan></text>
<rect x="707.48" y="231.38" width="3.84" height="3.84" fill="#10f010" stroke="#111" stroke-width="0.8"/>
<text x="716.3" y="235.72" font-size="7.6" font-weight="bold" textLength="27.5" lengthAdjust="spacingAndGlyphs">0.5×IC<tspan font-size="5.2" dy="1.7">50</tspan></text>
<path d="M709.4,240.95 L711.45,244.58 L707.35,244.58 Z" fill="#10f010" stroke="#111" stroke-width="0.8"/>
<text x="716.3" y="245.42" font-size="7.6" font-weight="bold" textLength="21.7" lengthAdjust="spacingAndGlyphs">1×IC<tspan font-size="5.2" dy="1.7">50</tspan></text>
<path d="M709.4,249.9 L711.2,251.7 L709.4,253.5 L707.6,251.7 Z" fill="#10f010" stroke="#111" stroke-width="0.8"/>
<text x="716.3" y="254.12" font-size="7.6" font-weight="bold" textLength="21.7" lengthAdjust="spacingAndGlyphs">2×IC<tspan font-size="5.2" dy="1.7">50</tspan></text>
<rect x="707.29" y="259.69" width="4.22" height="4.22" fill="#10f010"/>
<path d="M707.71,260.11 L711.09,263.49 M711.09,260.11 L707.71,263.49" stroke="#111" stroke-width="0.74"/>
<text x="716.3" y="264.22" font-size="7.6" font-weight="bold" textLength="21.7" lengthAdjust="spacingAndGlyphs">4×IC<tspan font-size="5.2" dy="1.7">50</tspan></text>
<circle cx="581" cy="242.1" r="3.1" fill="#10f010" stroke="#111" stroke-width="0.9"/>
<rect x="622.5" y="335.7" width="6.2" height="6.2" fill="#10f010" stroke="#111" stroke-width="0.9"/>
<path d="M693,379.5 L696.3,385.35 L689.7,385.35 Z" fill="#10f010" stroke="#111" stroke-width="0.9"/>
<path d="M702.3,370.9 L705.2,373.8 L702.3,376.7 L699.4,373.8 Z" fill="#10f010" stroke="#111" stroke-width="0.9"/>
<rect x="721.2" y="368.4" width="6.8" height="6.8" fill="#10f010"/>
<path d="M721.88,369.08 L727.32,374.52 M727.32,369.08 L721.88,374.52" stroke="#111" stroke-width="1.2"/>
</svg>
</body></html>
